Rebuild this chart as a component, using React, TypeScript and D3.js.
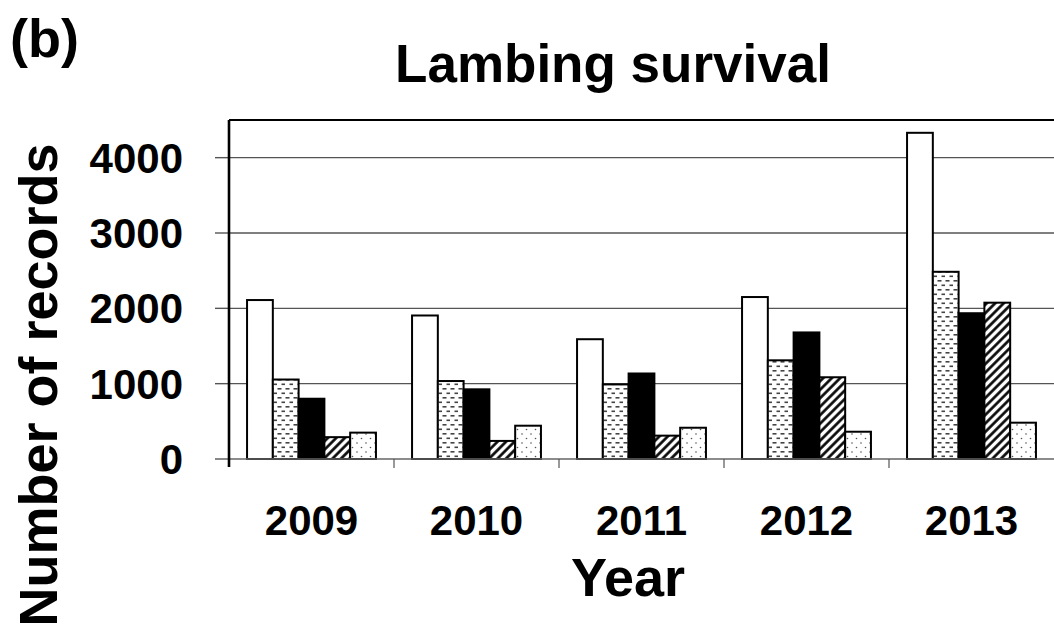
import React from "react";
import * as d3 from "d3";

const years = ["2009", "2010", "2011", "2012", "2013"];
const seriesKeys = ["s1", "s2", "s3", "s4", "s5"];
const s1 = [2110, 1905, 1590, 2150, 4330];
const s2 = [1055, 1035, 990, 1310, 2485];
const s3 = [800, 925, 1135, 1680, 1935];
const s4 = [290, 240, 310, 1085, 2075];
const s5 = [350, 442, 415, 362, 482];
const yTicks = [0, 1000, 2000, 3000, 4000];
const seriesValues = [s1, s2, s3, s4, s5];

const W = 1054;
const H = 633;
const FONT = "'Liberation Sans', Arial, sans-serif";

export default function App() {
  const left = 229;
  const right = 1054;
  const top = 120;
  const bottom = 459;

  const x0 = d3.scaleBand<string>().domain(years).range([left, right]).padding(0);
  const x1 = d3
    .scaleBand<string>()
    .domain(seriesKeys)
    .range([0, x0.bandwidth()])
    .paddingInner(0)
    .paddingOuter(0.7);
  const y = d3.scaleLinear().domain([0, 4500]).range([bottom, top]);

  const fills = ["#ffffff", "url(#dashes)", "#000000", "url(#hatch)", "url(#dots)"];

  return (
    <svg
      width={W}
      height={H}
      style={{ position: "absolute", left: 0, top: 0, background: "#fff" }}
      fontFamily={FONT}
    >
      <defs>
        <pattern id="dashes" width="8" height="9" patternUnits="userSpaceOnUse">
          <rect width="8" height="9" fill="#fff" />
          <rect x="0.5" y="1" width="4" height="1.6" fill="#444" />
          <rect x="4.5" y="5.5" width="4" height="1.6" fill="#444" />
        </pattern>
        <pattern
          id="hatch"
          width="6"
          height="6"
          patternUnits="userSpaceOnUse"
          patternTransform="rotate(45)"
        >
          <rect width="6" height="6" fill="#fff" />
          <line x1="1.5" y1="0" x2="1.5" y2="6" stroke="#000" strokeWidth="2.6" />
        </pattern>
        <pattern id="dots" width="9" height="9" patternUnits="userSpaceOnUse">
          <rect width="9" height="9" fill="#fff" />
          <circle cx="2" cy="2" r="0.8" fill="#555" />
          <circle cx="6.5" cy="6.5" r="0.8" fill="#555" />
        </pattern>
      </defs>

      {/* gridlines */}
      {yTicks.slice(1).map((t) => (
        <line key={t} x1={left} x2={right} y1={y(t)} y2={y(t)} stroke="#555" strokeWidth={1.4} />
      ))}

      {/* y tick marks */}
      {yTicks.map((t) => (
        <line key={"tm" + t} x1={left - 14} x2={left} y1={y(t)} y2={y(t)} stroke="#555" strokeWidth={1.4} />
      ))}

      {/* bars */}
      {years.map((yr, i) => (
        <g key={yr} transform={`translate(${x0(yr)},0)`}>
          {seriesKeys.map((k, j) => {
            const v = seriesValues[j][i];
            return (
              <rect
                key={k}
                x={x1(k)}
                y={y(v)}
                width={x1.bandwidth()}
                height={y(0) - y(v)}
                fill={fills[j]}
                stroke="#000"
                strokeWidth={2}
              />
            );
          })}
        </g>
      ))}

      {/* x axis baseline */}
      <line x1={left} x2={right} y1={bottom} y2={bottom} stroke="#666" strokeWidth={1.5} />
      {/* category separators */}
      {years.slice(1).map((yr) => (
        <line key={"sep" + yr} x1={x0(yr)} x2={x0(yr)} y1={bottom} y2={bottom + 9} stroke="#555" strokeWidth={1.2} />
      ))}

      {/* frame */}
      <line x1={left} x2={left} y1={top} y2={bottom + 8} stroke="#000" strokeWidth={2.6} />
      <line x1={left} x2={right} y1={top} y2={top} stroke="#000" strokeWidth={2.2} />

      {/* y tick labels */}
      {yTicks.map((t) => (
        <text
          key={"yl" + t}
          x={183}
          y={y(t) + 15}
          textAnchor="end"
          fontSize={42}
          fontWeight="bold"
          fill="#000"
        >
          {t}
        </text>
      ))}

      {/* x tick labels */}
      {years.map((yr) => (
        <text
          key={"xl" + yr}
          x={(x0(yr) as number) + x0.bandwidth() / 2}
          y={535}
          textAnchor="middle"
          fontSize={42}
          fontWeight="bold"
          fill="#000"
        >
          {yr}
        </text>
      ))}

      {/* axis titles */}
      <text x={628} y={596} textAnchor="middle" fontSize={54} fontWeight="bold" fill="#000">
        Year
      </text>
      <text
        transform={`translate(57,385) rotate(-90)`}
        textAnchor="middle"
        fontSize={54}
        fontWeight="bold"
        fill="#000"
      >
        Number of records
      </text>

      {/* title */}
      <text x={613} y={82} textAnchor="middle" fontSize={53} fontWeight="bold" fill="#000">
        Lambing survival
      </text>
      <text x={10} y={57} fontSize={54} fontWeight="bold" fill="#000">
        (b)
      </text>
    </svg>
  );
}
